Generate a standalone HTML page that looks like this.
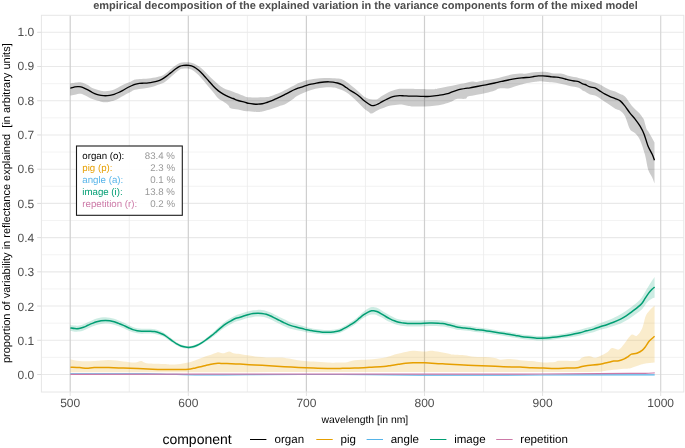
<!DOCTYPE html>
<html><head><meta charset="utf-8"><style>
html,body{margin:0;padding:0;background:#fff;width:685px;height:448px;overflow:hidden;}
svg{display:block;filter:blur(0.4px);}
text{font-family:"Liberation Sans",sans-serif;text-rendering:geometricPrecision;}
</style></head><body>
<svg width="685" height="448" viewBox="0 0 685 448"><rect x="0" y="0" width="685" height="448" fill="#fff"/><line x1="41.4" x2="683.8" y1="357.39" y2="357.39" stroke="#f0f0f0" stroke-width="0.8"/><line x1="41.4" x2="683.8" y1="323.17" y2="323.17" stroke="#f0f0f0" stroke-width="0.8"/><line x1="41.4" x2="683.8" y1="288.95" y2="288.95" stroke="#f0f0f0" stroke-width="0.8"/><line x1="41.4" x2="683.8" y1="254.73" y2="254.73" stroke="#f0f0f0" stroke-width="0.8"/><line x1="41.4" x2="683.8" y1="220.51" y2="220.51" stroke="#f0f0f0" stroke-width="0.8"/><line x1="41.4" x2="683.8" y1="186.29" y2="186.29" stroke="#f0f0f0" stroke-width="0.8"/><line x1="41.4" x2="683.8" y1="152.07" y2="152.07" stroke="#f0f0f0" stroke-width="0.8"/><line x1="41.4" x2="683.8" y1="117.85" y2="117.85" stroke="#f0f0f0" stroke-width="0.8"/><line x1="41.4" x2="683.8" y1="83.63" y2="83.63" stroke="#f0f0f0" stroke-width="0.8"/><line x1="41.4" x2="683.8" y1="49.41" y2="49.41" stroke="#f0f0f0" stroke-width="0.8"/><line y1="15.3" y2="392.0" x1="129.25" x2="129.25" stroke="#ebebeb" stroke-width="0.8"/><line y1="15.3" y2="392.0" x1="247.35" x2="247.35" stroke="#ebebeb" stroke-width="0.8"/><line y1="15.3" y2="392.0" x1="365.45" x2="365.45" stroke="#ebebeb" stroke-width="0.8"/><line y1="15.3" y2="392.0" x1="483.55" x2="483.55" stroke="#ebebeb" stroke-width="0.8"/><line y1="15.3" y2="392.0" x1="601.65" x2="601.65" stroke="#ebebeb" stroke-width="0.8"/><line x1="41.4" x2="683.8" y1="374.50" y2="374.50" stroke="#e9e9e9" stroke-width="1.1"/><line x1="41.4" x2="683.8" y1="340.28" y2="340.28" stroke="#e9e9e9" stroke-width="1.1"/><line x1="41.4" x2="683.8" y1="306.06" y2="306.06" stroke="#e9e9e9" stroke-width="1.1"/><line x1="41.4" x2="683.8" y1="271.84" y2="271.84" stroke="#e9e9e9" stroke-width="1.1"/><line x1="41.4" x2="683.8" y1="237.62" y2="237.62" stroke="#e9e9e9" stroke-width="1.1"/><line x1="41.4" x2="683.8" y1="203.40" y2="203.40" stroke="#e9e9e9" stroke-width="1.1"/><line x1="41.4" x2="683.8" y1="169.18" y2="169.18" stroke="#e9e9e9" stroke-width="1.1"/><line x1="41.4" x2="683.8" y1="134.96" y2="134.96" stroke="#e9e9e9" stroke-width="1.1"/><line x1="41.4" x2="683.8" y1="100.74" y2="100.74" stroke="#e9e9e9" stroke-width="1.1"/><line x1="41.4" x2="683.8" y1="66.52" y2="66.52" stroke="#e9e9e9" stroke-width="1.1"/><line x1="41.4" x2="683.8" y1="32.30" y2="32.30" stroke="#e9e9e9" stroke-width="1.1"/><line y1="15.3" y2="392.0" x1="70.20" x2="70.20" stroke="#cfcfcf" stroke-width="1.2"/><line y1="15.3" y2="392.0" x1="188.30" x2="188.30" stroke="#cfcfcf" stroke-width="1.2"/><line y1="15.3" y2="392.0" x1="306.40" x2="306.40" stroke="#cfcfcf" stroke-width="1.2"/><line y1="15.3" y2="392.0" x1="424.50" x2="424.50" stroke="#cfcfcf" stroke-width="1.2"/><line y1="15.3" y2="392.0" x1="542.60" x2="542.60" stroke="#d6d6d6" stroke-width="1.2"/><line y1="15.3" y2="392.0" x1="660.70" x2="660.70" stroke="#d6d6d6" stroke-width="1.2"/><rect x="41.4" y="15.3" width="642.40" height="376.70" fill="none" stroke="#e6e6e6" stroke-width="1"/><line x1="37.2" x2="41.4" y1="374.50" y2="374.50" stroke="#dcdcdc" stroke-width="1"/><line x1="37.2" x2="41.4" y1="340.28" y2="340.28" stroke="#dcdcdc" stroke-width="1"/><line x1="37.2" x2="41.4" y1="306.06" y2="306.06" stroke="#dcdcdc" stroke-width="1"/><line x1="37.2" x2="41.4" y1="271.84" y2="271.84" stroke="#dcdcdc" stroke-width="1"/><line x1="37.2" x2="41.4" y1="237.62" y2="237.62" stroke="#dcdcdc" stroke-width="1"/><line x1="37.2" x2="41.4" y1="203.40" y2="203.40" stroke="#dcdcdc" stroke-width="1"/><line x1="37.2" x2="41.4" y1="169.18" y2="169.18" stroke="#dcdcdc" stroke-width="1"/><line x1="37.2" x2="41.4" y1="134.96" y2="134.96" stroke="#dcdcdc" stroke-width="1"/><line x1="37.2" x2="41.4" y1="100.74" y2="100.74" stroke="#dcdcdc" stroke-width="1"/><line x1="37.2" x2="41.4" y1="66.52" y2="66.52" stroke="#dcdcdc" stroke-width="1"/><line x1="37.2" x2="41.4" y1="32.30" y2="32.30" stroke="#dcdcdc" stroke-width="1"/><line y1="392.0" y2="396" x1="70.20" x2="70.20" stroke="#e2e2e2" stroke-width="1"/><line y1="392.0" y2="396" x1="188.30" x2="188.30" stroke="#e2e2e2" stroke-width="1"/><line y1="392.0" y2="396" x1="306.40" x2="306.40" stroke="#e2e2e2" stroke-width="1"/><line y1="392.0" y2="396" x1="424.50" x2="424.50" stroke="#e2e2e2" stroke-width="1"/><line y1="392.0" y2="396" x1="542.60" x2="542.60" stroke="#e2e2e2" stroke-width="1"/><line y1="392.0" y2="396" x1="660.70" x2="660.70" stroke="#e2e2e2" stroke-width="1"/><path d="M70.40,83.30 C71.85,83.12 77.07,82.30 79.10,82.20 C81.13,82.10 81.13,82.22 82.60,82.70 C84.07,83.18 86.28,84.20 87.90,85.10 C89.52,86.00 90.12,87.15 92.30,88.10 C94.48,89.05 98.82,90.28 101.00,90.80 C103.18,91.32 103.93,91.20 105.40,91.20 C106.87,91.20 108.33,91.08 109.80,90.80 C111.27,90.52 112.73,90.08 114.20,89.50 C115.67,88.92 116.63,88.28 118.60,87.30 C120.57,86.32 124.02,84.52 126.00,83.60 C127.98,82.68 129.02,82.47 130.50,81.80 C131.98,81.13 133.42,80.08 134.90,79.60 C136.38,79.12 137.17,79.10 139.40,78.90 C141.63,78.70 145.32,78.73 148.30,78.40 C151.28,78.07 154.77,77.45 157.30,76.90 C159.83,76.35 161.28,76.37 163.50,75.10 C165.72,73.83 168.67,70.87 170.60,69.30 C172.53,67.73 173.60,66.75 175.10,65.70 C176.60,64.65 178.12,63.57 179.60,63.00 C181.08,62.43 182.45,62.42 184.00,62.30 C185.55,62.18 187.27,62.10 188.90,62.30 C190.53,62.50 192.17,62.83 193.80,63.50 C195.43,64.17 197.07,65.17 198.70,66.30 C200.33,67.43 201.97,68.82 203.60,70.30 C205.23,71.78 206.87,73.57 208.50,75.20 C210.13,76.83 211.75,78.57 213.40,80.10 C215.05,81.63 216.75,83.07 218.40,84.40 C220.05,85.73 221.67,87.15 223.30,88.10 C224.93,89.05 226.57,89.50 228.20,90.10 C229.83,90.70 231.47,91.12 233.10,91.70 C234.73,92.28 236.10,92.84 238.00,93.60 C239.90,94.36 242.68,95.63 244.50,96.25 C246.32,96.87 246.67,97.09 248.90,97.30 C251.13,97.51 254.92,97.53 257.90,97.50 C260.88,97.47 264.57,97.35 266.80,97.10 C269.03,96.85 269.82,96.48 271.30,96.00 C272.78,95.52 274.22,94.80 275.70,94.20 C277.18,93.60 278.72,93.07 280.20,92.40 C281.68,91.73 283.12,90.95 284.60,90.20 C286.08,89.45 287.60,88.65 289.10,87.90 C290.60,87.15 292.12,86.47 293.60,85.70 C295.08,84.93 296.53,83.97 298.00,83.30 C299.47,82.63 300.93,82.20 302.40,81.70 C303.87,81.20 304.62,80.78 306.80,80.30 C308.98,79.82 312.58,79.17 315.50,78.80 C318.42,78.43 321.38,78.18 324.30,78.10 C327.22,78.02 330.38,78.18 333.00,78.30 C335.62,78.42 338.25,78.50 340.00,78.80 C341.75,79.10 342.33,79.52 343.50,80.10 C344.67,80.68 345.82,81.50 347.00,82.30 C348.18,83.10 349.27,83.87 350.60,84.90 C351.93,85.93 353.52,87.23 355.00,88.50 C356.48,89.77 358.02,91.17 359.50,92.50 C360.98,93.83 362.42,95.46 363.90,96.50 C365.38,97.54 366.90,98.25 368.40,98.75 C369.90,99.25 371.42,99.42 372.90,99.50 C374.38,99.58 375.82,99.77 377.30,99.20 C378.78,98.63 380.30,97.07 381.80,96.10 C383.30,95.13 384.82,94.22 386.30,93.40 C387.78,92.58 389.22,91.80 390.70,91.20 C392.18,90.60 393.72,90.21 395.20,89.80 C396.68,89.39 397.37,88.92 399.60,88.75 C401.83,88.58 406.03,88.72 408.60,88.75 C411.17,88.78 412.95,88.88 415.00,88.90 C417.05,88.93 417.68,88.85 420.90,88.90 C424.12,88.95 431.32,89.30 434.30,89.20 C437.28,89.10 436.57,88.75 438.80,88.30 C441.03,87.85 444.73,87.10 447.70,86.50 C450.67,85.90 453.62,85.30 456.60,84.70 C459.58,84.10 463.03,83.42 465.60,82.90 C468.17,82.38 470.12,81.77 472.00,81.60 C473.88,81.43 474.58,82.15 476.90,81.90 C479.22,81.65 482.92,80.62 485.90,80.10 C488.88,79.57 491.83,79.35 494.80,78.75 C497.77,78.15 500.73,77.24 503.70,76.50 C506.67,75.76 509.62,74.82 512.60,74.30 C515.58,73.78 519.53,73.48 521.60,73.40 C523.67,73.32 522.95,73.98 525.00,73.80 C527.05,73.62 530.92,72.63 533.90,72.30 C536.88,71.97 540.67,71.83 542.90,71.80 C545.13,71.77 545.82,71.87 547.30,72.10 C548.78,72.33 549.57,72.95 551.80,73.20 C554.03,73.45 558.47,73.35 560.70,73.60 C562.93,73.85 563.72,74.28 565.20,74.70 C566.68,75.12 567.37,75.57 569.60,76.10 C571.83,76.63 576.03,77.33 578.60,77.90 C581.17,78.47 583.10,78.98 585.00,79.50 C586.90,80.02 588.33,80.50 590.00,81.00 C591.67,81.50 593.32,81.92 595.00,82.50 C596.68,83.08 598.42,83.65 600.10,84.50 C601.78,85.35 603.43,86.67 605.10,87.60 C606.77,88.53 608.42,89.43 610.10,90.10 C611.78,90.77 613.52,90.93 615.20,91.60 C616.88,92.27 618.57,93.27 620.20,94.10 C621.83,94.93 623.07,94.67 625.00,96.60 C626.93,98.53 629.43,102.95 631.80,105.70 C634.17,108.45 637.35,111.05 639.20,113.10 C641.05,115.15 642.10,116.85 642.90,118.00 C643.70,119.15 643.38,118.17 644.00,120.00 C644.62,121.83 645.87,127.07 646.60,129.00 C647.33,130.93 647.08,129.35 648.40,131.60 C649.72,133.85 653.48,140.68 654.50,142.50 L654.50,183.40 C654.12,182.40 653.27,179.73 652.20,177.40 C651.13,175.07 649.28,173.08 648.10,169.40 C646.92,165.72 646.43,160.17 645.10,155.30 C643.77,150.43 641.77,143.88 640.10,140.20 C638.43,136.52 636.78,135.03 635.10,133.20 C633.42,131.37 631.68,132.03 630.00,129.20 C628.32,126.37 626.63,119.28 625.00,116.20 C623.37,113.12 621.83,111.95 620.20,110.70 C618.57,109.45 616.88,109.62 615.20,108.70 C613.52,107.78 611.78,106.30 610.10,105.20 C608.42,104.10 606.77,103.20 605.10,102.10 C603.43,101.00 601.78,99.68 600.10,98.60 C598.42,97.52 596.68,96.27 595.00,95.60 C593.32,94.93 591.67,95.27 590.00,94.60 C588.33,93.93 586.17,92.23 585.00,91.60 C583.83,90.97 584.07,91.45 583.00,90.80 C581.93,90.15 580.83,88.52 578.60,87.70 C576.37,86.88 572.58,86.57 569.60,85.90 C566.62,85.23 563.67,84.30 560.70,83.70 C557.73,83.10 554.03,82.60 551.80,82.30 C549.57,82.00 548.78,82.05 547.30,81.90 C545.82,81.75 544.38,81.48 542.90,81.40 C541.42,81.32 539.90,81.32 538.40,81.40 C536.90,81.48 536.13,81.57 533.90,81.90 C531.67,82.23 527.05,82.95 525.00,83.40 C522.95,83.85 523.67,83.97 521.60,84.60 C519.53,85.23 514.83,86.57 512.60,87.20 C510.37,87.83 510.43,88.20 508.20,88.40 C505.97,88.60 501.48,88.07 499.25,88.40 C497.02,88.73 497.03,89.63 494.80,90.40 C492.57,91.17 488.88,92.27 485.90,93.00 C482.92,93.73 479.88,94.20 476.90,94.80 C473.92,95.40 469.88,95.93 468.00,96.60 C466.12,97.27 467.50,98.40 465.60,98.80 C463.70,99.20 458.83,98.59 456.60,99.00 C454.37,99.41 453.68,100.58 452.20,101.25 C450.72,101.92 449.93,102.33 447.70,103.00 C445.47,103.67 441.77,104.77 438.80,105.30 C435.83,105.83 432.88,106.02 429.90,106.20 C426.92,106.38 423.72,106.37 420.90,106.40 C418.08,106.43 415.05,106.48 413.00,106.40 C410.95,106.32 410.08,106.13 408.60,105.90 C407.12,105.67 405.60,105.22 404.10,105.00 C402.60,104.78 401.08,104.60 399.60,104.60 C398.12,104.60 396.68,104.87 395.20,105.00 C393.72,105.13 392.18,105.10 390.70,105.40 C389.22,105.70 387.78,106.27 386.30,106.80 C384.82,107.33 383.30,108.00 381.80,108.60 C380.30,109.20 379.02,109.58 377.30,110.40 C375.58,111.22 372.98,113.28 371.50,113.50 C370.02,113.72 369.67,112.52 368.40,111.70 C367.13,110.88 365.38,109.87 363.90,108.60 C362.42,107.33 360.98,105.60 359.50,104.10 C358.02,102.60 356.48,101.05 355.00,99.60 C353.52,98.15 352.07,96.62 350.60,95.40 C349.13,94.18 347.67,93.18 346.20,92.30 C344.73,91.42 343.27,90.75 341.80,90.10 C340.33,89.45 338.87,88.83 337.40,88.40 C335.93,87.97 335.18,87.65 333.00,87.50 C330.82,87.35 327.22,87.28 324.30,87.50 C321.38,87.72 318.42,88.13 315.50,88.80 C312.58,89.47 309.72,90.37 306.80,91.50 C303.88,92.63 300.20,94.40 298.00,95.60 C295.80,96.80 295.08,97.67 293.60,98.70 C292.12,99.73 290.60,100.83 289.10,101.80 C287.60,102.77 286.08,103.83 284.60,104.50 C283.12,105.17 281.68,105.28 280.20,105.80 C278.72,106.32 277.18,107.08 275.70,107.60 C274.22,108.12 272.78,108.45 271.30,108.90 C269.82,109.35 268.30,109.85 266.80,110.30 C265.30,110.75 263.78,111.31 262.30,111.60 C260.82,111.89 260.13,112.12 257.90,112.05 C255.67,111.98 251.22,111.38 248.90,111.20 C246.58,111.03 245.82,111.27 244.00,111.00 C242.18,110.73 240.23,110.05 238.00,109.60 C235.77,109.15 232.23,109.03 230.60,108.30 C228.97,107.57 229.42,106.32 228.20,105.20 C226.98,104.08 224.93,102.72 223.30,101.60 C221.67,100.48 220.05,100.03 218.40,98.50 C216.75,96.97 215.05,94.35 213.40,92.40 C211.75,90.45 210.13,88.75 208.50,86.80 C206.87,84.85 205.23,82.63 203.60,80.70 C201.97,78.77 200.33,76.83 198.70,75.20 C197.07,73.57 195.43,71.97 193.80,70.90 C192.17,69.83 190.53,69.18 188.90,68.80 C187.27,68.42 185.55,68.45 184.00,68.60 C182.45,68.75 181.08,68.92 179.60,69.70 C178.12,70.48 176.60,72.03 175.10,73.30 C173.60,74.57 172.08,76.03 170.60,77.30 C169.12,78.57 167.68,79.85 166.20,80.90 C164.72,81.95 163.93,82.63 161.70,83.60 C159.47,84.57 155.77,85.88 152.80,86.70 C149.83,87.52 146.88,87.98 143.90,88.50 C140.92,89.02 137.13,89.20 134.90,89.80 C132.67,90.40 131.98,91.35 130.50,92.10 C129.02,92.85 128.28,93.07 126.00,94.30 C123.72,95.53 119.50,98.27 116.80,99.50 C114.10,100.73 111.70,101.25 109.80,101.70 C107.90,102.15 106.87,102.20 105.40,102.20 C103.93,102.20 103.18,102.22 101.00,101.70 C98.82,101.18 94.92,100.12 92.30,99.10 C89.68,98.08 87.20,96.48 85.30,95.60 C83.40,94.72 82.65,93.95 80.90,93.80 C79.15,93.65 76.55,94.40 74.80,94.70 C73.05,95.00 71.13,95.45 70.40,95.60 Z" fill="#000" fill-opacity="0.2"/><path d="M70.50,359.20 C72.02,359.52 75.65,360.78 79.60,361.10 C83.55,361.42 89.33,361.28 94.20,361.10 C99.07,360.92 103.93,359.93 108.80,360.00 C113.67,360.07 119.03,361.08 123.40,361.50 C127.77,361.92 132.07,362.57 135.00,362.50 C137.93,362.43 139.03,360.98 141.00,361.10 C142.97,361.22 142.80,362.72 146.80,363.20 C150.80,363.68 161.13,363.80 165.00,364.00 C168.87,364.20 167.47,364.42 170.00,364.40 C172.53,364.38 176.80,364.32 180.20,363.90 C183.60,363.48 187.85,362.50 190.40,361.90 C192.95,361.30 193.78,360.90 195.50,360.30 C197.22,359.70 198.98,358.98 200.70,358.30 C202.42,357.62 204.10,356.80 205.80,356.20 C207.50,355.60 209.03,355.33 210.90,354.70 C212.77,354.07 215.30,352.68 217.00,352.40 C218.70,352.12 219.90,352.87 221.10,353.00 C222.30,353.13 222.83,353.43 224.20,353.20 C225.57,352.97 227.77,351.60 229.30,351.60 C230.83,351.60 231.62,352.80 233.40,353.20 C235.18,353.60 237.63,353.65 240.00,354.00 C242.37,354.35 245.10,354.90 247.60,355.30 C250.10,355.70 251.33,356.03 255.00,356.40 C258.67,356.77 265.22,357.32 269.60,357.50 C273.98,357.68 277.65,357.25 281.30,357.50 C284.95,357.75 288.10,358.47 291.50,359.00 C294.90,359.53 298.05,360.27 301.70,360.70 C305.35,361.13 309.02,361.28 313.40,361.60 C317.78,361.92 323.57,362.45 328.00,362.60 C332.43,362.75 336.83,362.57 340.00,362.50 C343.17,362.43 344.57,362.57 347.00,362.20 C349.43,361.83 350.90,360.73 354.60,360.30 C358.30,359.87 364.33,360.02 369.20,359.60 C374.07,359.18 379.90,358.53 383.80,357.80 C387.70,357.07 389.68,356.00 392.60,355.20 C395.52,354.40 397.90,353.73 401.30,353.00 C404.70,352.27 409.10,351.03 413.00,350.80 C416.90,350.57 421.78,351.60 424.70,351.60 C427.62,351.60 427.95,350.75 430.50,350.80 C433.05,350.85 436.75,351.38 440.00,351.90 C443.25,352.42 447.95,353.45 450.00,353.90 C452.05,354.35 449.97,354.37 452.30,354.60 C454.63,354.83 460.35,354.93 464.00,355.30 C467.65,355.67 470.07,356.48 474.20,356.80 C478.33,357.12 485.15,356.97 488.80,357.20 C492.45,357.43 494.15,357.78 496.10,358.20 C498.05,358.62 498.07,359.57 500.50,359.70 C502.93,359.83 507.45,358.92 510.70,359.00 C513.95,359.08 516.50,359.85 520.00,360.20 C523.50,360.55 528.20,360.75 531.70,361.10 C535.20,361.45 538.78,362.08 541.00,362.30 C543.22,362.52 542.67,362.47 545.00,362.40 C547.33,362.33 552.55,362.17 555.00,361.90 C557.45,361.63 556.00,360.98 559.70,360.80 C563.40,360.62 573.50,361.30 577.20,360.80 C580.90,360.30 579.95,358.58 581.90,357.80 C583.85,357.02 586.77,356.10 588.90,356.10 C591.03,356.10 592.85,357.82 594.70,357.80 C596.55,357.78 597.83,356.97 600.00,356.00 C602.17,355.03 605.70,353.32 607.70,352.00 C609.70,350.68 610.13,348.52 612.00,348.10 C613.87,347.68 616.85,350.22 618.90,349.50 C620.95,348.78 622.22,346.25 624.30,343.80 C626.38,341.35 629.32,336.15 631.40,334.80 C633.48,333.45 635.02,336.73 636.80,335.70 C638.58,334.67 640.62,331.87 642.10,328.60 C643.58,325.33 644.50,319.08 645.70,316.10 C646.90,313.12 647.82,312.48 649.30,310.70 C650.78,308.92 653.72,306.28 654.60,305.40 L654.60,362.50 C653.12,362.65 647.78,363.10 645.70,363.40 C643.62,363.70 644.48,363.55 642.10,364.30 C639.72,365.05 634.37,367.15 631.40,367.90 C628.43,368.65 627.87,368.42 624.30,368.80 C620.73,369.18 614.05,369.75 610.00,370.20 C605.95,370.65 603.33,371.20 600.00,371.50 C596.67,371.80 623.33,371.90 590.00,372.00 C556.67,372.10 465.00,372.07 400.00,372.10 C335.00,372.13 254.92,372.17 200.00,372.20 C145.08,372.23 92.08,372.28 70.50,372.30 Z" fill="#E69F00" fill-opacity="0.2"/><path d="M70.40,324.90 C71.13,325.01 73.35,325.48 74.80,325.57 C76.25,325.66 77.65,325.67 79.10,325.44 C80.55,325.21 82.03,324.75 83.50,324.21 C84.97,323.67 86.43,322.84 87.90,322.18 C89.37,321.52 90.83,320.84 92.30,320.25 C93.77,319.66 95.25,319.06 96.70,318.62 C98.15,318.18 99.55,317.84 101.00,317.62 C102.45,317.39 103.93,317.26 105.40,317.29 C106.87,317.31 108.33,317.50 109.80,317.76 C111.27,318.01 112.73,318.37 114.20,318.83 C115.67,319.28 117.15,319.92 118.60,320.50 C120.05,321.07 121.27,321.52 122.90,322.27 C124.53,323.01 126.75,324.19 128.40,324.97 C130.05,325.75 131.35,326.43 132.80,326.96 C134.25,327.49 135.65,327.85 137.10,328.14 C138.55,328.44 140.03,328.61 141.50,328.72 C142.97,328.83 144.43,328.77 145.90,328.79 C147.37,328.81 148.83,328.77 150.30,328.85 C151.77,328.94 153.25,329.05 154.70,329.32 C156.15,329.59 157.55,329.97 159.00,330.49 C160.45,331.00 161.93,331.58 163.40,332.44 C164.87,333.29 166.33,334.50 167.80,335.61 C169.27,336.72 170.73,337.98 172.20,339.09 C173.67,340.19 175.13,341.33 176.60,342.25 C178.07,343.16 179.28,343.96 181.00,344.58 C182.72,345.20 185.10,345.79 186.90,345.98 C188.70,346.17 190.17,346.05 191.80,345.73 C193.43,345.42 195.07,344.80 196.70,344.08 C198.33,343.37 199.95,342.48 201.60,341.43 C203.25,340.39 204.95,339.07 206.60,337.79 C208.25,336.51 209.87,335.16 211.50,333.75 C213.13,332.34 214.77,330.81 216.40,329.31 C218.03,327.81 219.67,326.20 221.30,324.77 C222.93,323.34 224.57,321.91 226.20,320.73 C227.83,319.54 229.47,318.61 231.10,317.68 C232.73,316.75 234.52,315.74 236.00,315.14 C237.48,314.55 238.60,314.54 240.00,314.11 C241.40,313.68 242.93,313.06 244.40,312.58 C245.87,312.10 247.35,311.62 248.80,311.25 C250.25,310.87 251.65,310.54 253.10,310.31 C254.55,310.09 256.03,309.93 257.50,309.88 C258.97,309.84 260.43,309.88 261.90,310.05 C263.37,310.23 264.83,310.50 266.30,310.92 C267.77,311.35 269.25,311.95 270.70,312.60 C272.15,313.24 273.55,314.04 275.00,314.77 C276.45,315.49 277.93,316.21 279.40,316.94 C280.87,317.66 282.33,318.39 283.80,319.11 C285.27,319.83 286.73,320.61 288.20,321.25 C289.67,321.89 291.15,322.45 292.60,322.95 C294.05,323.46 295.27,323.77 296.90,324.26 C298.53,324.74 300.75,325.38 302.40,325.87 C304.05,326.36 305.35,326.83 306.80,327.20 C308.25,327.58 309.65,327.84 311.10,328.13 C312.55,328.43 314.03,328.72 315.50,328.97 C316.97,329.21 318.43,329.43 319.90,329.60 C321.37,329.77 322.83,329.90 324.30,329.98 C325.77,330.06 327.25,330.10 328.70,330.07 C330.15,330.03 331.55,329.92 333.00,329.75 C334.45,329.58 335.93,329.42 337.40,329.03 C338.87,328.64 340.33,328.09 341.80,327.41 C343.27,326.73 344.73,325.83 346.20,324.96 C347.67,324.09 349.13,323.16 350.60,322.21 C352.07,321.26 353.53,320.40 355.00,319.27 C356.47,318.13 357.93,316.70 359.40,315.42 C360.87,314.14 362.35,312.72 363.80,311.58 C365.25,310.45 366.80,309.38 368.10,308.62 C369.40,307.87 370.53,307.27 371.60,307.03 C372.67,306.79 373.62,307.04 374.50,307.18 C375.38,307.31 375.77,307.33 376.90,307.85 C378.03,308.37 379.83,309.41 381.30,310.29 C382.77,311.16 384.25,312.24 385.70,313.12 C387.15,313.99 388.55,314.78 390.00,315.53 C391.45,316.29 392.93,317.03 394.40,317.65 C395.87,318.27 397.33,318.88 398.80,319.27 C400.27,319.66 401.73,319.79 403.20,320.00 C404.67,320.21 406.13,320.40 407.60,320.50 C409.07,320.60 409.80,320.62 412.00,320.60 C414.20,320.58 417.88,320.48 420.80,320.40 C423.72,320.32 426.58,320.13 429.50,320.10 C432.42,320.07 436.10,320.11 438.30,320.20 C440.50,320.29 441.25,320.43 442.70,320.65 C444.15,320.88 445.55,321.18 447.00,321.54 C448.45,321.90 449.93,322.42 451.40,322.83 C452.87,323.24 454.33,323.67 455.80,324.02 C457.27,324.36 458.73,324.67 460.20,324.90 C461.67,325.14 462.97,325.26 464.60,325.43 C466.23,325.61 468.27,325.73 470.00,325.98 C471.73,326.22 473.18,326.63 475.00,326.91 C476.82,327.19 478.95,327.39 480.90,327.66 C482.85,327.92 484.75,328.20 486.70,328.50 C488.65,328.80 490.65,329.13 492.60,329.44 C494.55,329.76 496.47,330.08 498.40,330.39 C500.33,330.70 502.25,330.99 504.20,331.31 C506.15,331.63 508.22,332.00 510.10,332.32 C511.98,332.64 513.72,332.92 515.50,333.23 C517.28,333.53 518.72,333.83 520.80,334.13 C522.88,334.44 525.33,334.74 528.00,335.05 C530.67,335.35 534.80,335.81 536.80,335.96 C538.80,336.11 538.35,336.00 540.00,335.97 C541.65,335.94 544.47,335.92 546.70,335.78 C548.93,335.63 551.17,335.35 553.40,335.09 C555.63,334.83 557.87,334.55 560.10,334.20 C562.33,333.85 564.57,333.44 566.80,332.98 C569.03,332.53 571.30,331.99 573.50,331.47 C575.70,330.95 577.80,330.48 580.00,329.86 C582.20,329.24 584.47,328.42 586.70,327.75 C588.93,327.09 591.17,326.61 593.40,325.88 C595.63,325.14 597.87,324.18 600.10,323.34 C602.33,322.51 604.57,321.75 606.80,320.86 C609.03,319.98 611.20,319.12 613.50,318.03 C615.80,316.95 618.48,315.58 620.60,314.36 C622.72,313.14 624.35,311.98 626.20,310.70 C628.05,309.41 629.85,308.04 631.70,306.65 C633.55,305.26 635.62,303.87 637.30,302.36 C638.98,300.84 640.50,299.31 641.80,297.58 C643.10,295.85 643.98,293.87 645.10,291.98 C646.22,290.09 647.38,288.06 648.50,286.23 C649.62,284.40 650.78,282.53 651.80,281.00 C652.82,279.48 654.13,277.71 654.60,277.06 L654.60,297.84 C654.13,297.99 652.82,298.15 651.80,298.70 C650.78,299.24 649.62,300.06 648.50,301.12 C647.38,302.18 646.22,303.62 645.10,305.03 C643.98,306.45 643.10,308.28 641.80,309.62 C640.50,310.96 638.98,311.83 637.30,313.05 C635.62,314.26 633.55,315.65 631.70,316.91 C629.85,318.17 628.05,319.52 626.20,320.61 C624.35,321.70 622.72,322.54 620.60,323.45 C618.48,324.36 615.80,325.29 613.50,326.07 C611.20,326.86 609.03,327.51 606.80,328.14 C604.57,328.77 602.33,329.19 600.10,329.86 C597.87,330.52 595.63,331.50 593.40,332.16 C591.17,332.82 588.93,333.25 586.70,333.81 C584.47,334.38 582.20,335.05 580.00,335.54 C577.80,336.03 575.70,336.35 573.50,336.73 C571.30,337.11 569.03,337.51 566.80,337.82 C564.57,338.13 562.33,338.32 560.10,338.60 C557.87,338.89 555.63,339.24 553.40,339.51 C551.17,339.78 548.93,340.07 546.70,340.22 C544.47,340.38 541.65,340.40 540.00,340.43 C538.35,340.47 538.80,340.59 536.80,340.44 C534.80,340.29 530.67,339.85 528.00,339.55 C525.33,339.26 522.88,338.96 520.80,338.67 C518.72,338.37 517.28,338.07 515.50,337.77 C513.72,337.48 511.98,337.20 510.10,336.88 C508.22,336.57 506.15,336.20 504.20,335.89 C502.25,335.58 500.33,335.30 498.40,335.01 C496.47,334.72 494.55,334.44 492.60,334.16 C490.65,333.87 488.65,333.57 486.70,333.30 C484.75,333.03 482.85,332.78 480.90,332.54 C478.95,332.31 476.82,332.14 475.00,331.89 C473.18,331.63 471.73,331.25 470.00,331.02 C468.27,330.80 466.23,330.72 464.60,330.57 C462.97,330.41 461.67,330.30 460.20,330.10 C458.73,329.90 457.27,329.67 455.80,329.38 C454.33,329.10 452.87,328.73 451.40,328.37 C449.93,328.02 448.45,327.56 447.00,327.26 C445.55,326.96 444.15,326.72 442.70,326.55 C441.25,326.37 440.50,326.27 438.30,326.20 C436.10,326.13 432.42,326.07 429.50,326.10 C426.58,326.13 423.72,326.32 420.80,326.40 C417.88,326.48 414.20,326.58 412.00,326.60 C409.80,326.62 409.07,326.60 407.60,326.50 C406.13,326.40 404.67,326.19 403.20,326.00 C401.73,325.81 400.27,325.67 398.80,325.33 C397.33,324.99 395.87,324.49 394.40,323.95 C392.93,323.41 391.45,322.74 390.00,322.07 C388.55,321.39 387.15,320.67 385.70,319.88 C384.25,319.09 382.77,318.10 381.30,317.31 C379.83,316.53 378.03,315.60 376.90,315.15 C375.77,314.70 375.38,314.72 374.50,314.62 C373.62,314.53 372.67,314.41 371.60,314.57 C370.53,314.73 369.40,315.03 368.10,315.58 C366.80,316.12 365.25,316.92 363.80,317.82 C362.35,318.72 360.87,319.86 359.40,320.98 C357.93,322.10 356.47,323.50 355.00,324.53 C353.53,325.57 352.07,326.34 350.60,327.19 C349.13,328.04 347.67,328.84 346.20,329.64 C344.73,330.44 343.27,331.33 341.80,331.99 C340.33,332.64 338.87,333.19 337.40,333.57 C335.93,333.95 334.45,334.09 333.00,334.25 C331.55,334.41 330.15,334.51 328.70,334.53 C327.25,334.56 325.77,334.51 324.30,334.42 C322.83,334.33 321.37,334.13 319.90,334.00 C318.43,333.87 316.97,333.79 315.50,333.63 C314.03,333.48 312.55,333.27 311.10,333.07 C309.65,332.86 308.25,332.69 306.80,332.40 C305.35,332.11 304.05,331.70 302.40,331.33 C300.75,330.95 298.53,330.49 296.90,330.14 C295.27,329.80 294.05,329.61 292.60,329.25 C291.15,328.88 289.67,328.48 288.20,327.95 C286.73,327.43 285.27,326.77 283.80,326.09 C282.33,325.41 280.87,324.61 279.40,323.86 C277.93,323.12 276.45,322.38 275.00,321.63 C273.55,320.89 272.15,320.06 270.70,319.40 C269.25,318.75 267.77,318.12 266.30,317.68 C264.83,317.23 263.37,316.94 261.90,316.75 C260.43,316.55 258.97,316.49 257.50,316.52 C256.03,316.54 254.55,316.68 253.10,316.89 C251.65,317.09 250.25,317.40 248.80,317.75 C247.35,318.11 245.87,318.57 244.40,319.02 C242.93,319.48 241.40,320.08 240.00,320.49 C238.60,320.90 237.48,320.89 236.00,321.46 C234.52,322.03 232.73,323.05 231.10,323.92 C229.47,324.79 227.83,325.66 226.20,326.67 C224.57,327.69 222.93,328.83 221.30,330.03 C219.67,331.23 218.03,332.62 216.40,333.89 C214.77,335.16 213.13,336.46 211.50,337.65 C209.87,338.84 208.25,339.89 206.60,341.01 C204.95,342.13 203.25,343.38 201.60,344.37 C199.95,345.35 198.33,346.23 196.70,346.92 C195.07,347.60 193.43,348.18 191.80,348.47 C190.17,348.75 188.70,348.79 186.90,348.62 C185.10,348.44 182.72,347.96 181.00,347.42 C179.28,346.88 178.07,346.17 176.60,345.35 C175.13,344.53 173.67,343.51 172.20,342.51 C170.73,341.52 169.27,340.38 167.80,339.39 C166.33,338.40 164.87,337.31 163.40,336.56 C161.93,335.82 160.45,335.36 159.00,334.91 C157.55,334.47 156.15,334.11 154.70,333.88 C153.25,333.65 151.77,333.59 150.30,333.55 C148.83,333.50 147.37,333.59 145.90,333.61 C144.43,333.63 142.97,333.74 141.50,333.68 C140.03,333.62 138.55,333.50 137.10,333.26 C135.65,333.02 134.25,332.72 132.80,332.24 C131.35,331.77 130.05,331.15 128.40,330.43 C126.75,329.71 124.53,328.62 122.90,327.93 C121.27,327.25 120.05,326.83 118.60,326.30 C117.15,325.78 115.67,325.18 114.20,324.77 C112.73,324.36 111.27,324.05 109.80,323.84 C108.33,323.63 106.87,323.49 105.40,323.51 C103.93,323.54 102.45,323.74 101.00,323.98 C99.55,324.23 98.15,324.55 96.70,324.98 C95.25,325.41 93.77,325.98 92.30,326.55 C90.83,327.12 89.37,327.78 87.90,328.42 C86.43,329.06 84.97,329.87 83.50,330.39 C82.03,330.91 80.55,331.35 79.10,331.56 C77.65,331.77 76.25,331.74 74.80,331.63 C73.35,331.52 71.13,331.02 70.40,330.90 Z" fill="#009E73" fill-opacity="0.2"/><path d="M70.40,88.30 C71.13,88.05 73.35,87.08 74.80,86.80 C76.25,86.52 77.80,86.52 79.10,86.60 C80.40,86.68 81.13,86.75 82.60,87.30 C84.07,87.85 86.28,89.03 87.90,89.90 C89.52,90.77 90.83,91.75 92.30,92.50 C93.77,93.25 95.25,93.93 96.70,94.40 C98.15,94.87 99.55,95.08 101.00,95.30 C102.45,95.52 103.93,95.70 105.40,95.70 C106.87,95.70 108.33,95.53 109.80,95.30 C111.27,95.07 112.73,94.77 114.20,94.30 C115.67,93.83 117.15,93.17 118.60,92.50 C120.05,91.83 121.67,90.97 122.90,90.30 C124.13,89.63 124.73,89.17 126.00,88.50 C127.27,87.83 129.02,86.95 130.50,86.25 C131.98,85.55 133.42,84.77 134.90,84.30 C136.38,83.83 137.90,83.58 139.40,83.40 C140.90,83.22 142.42,83.28 143.90,83.20 C145.38,83.12 146.82,83.07 148.30,82.90 C149.78,82.73 151.30,82.50 152.80,82.20 C154.30,81.90 155.82,81.58 157.30,81.10 C158.78,80.62 160.22,80.08 161.70,79.30 C163.18,78.52 164.72,77.47 166.20,76.40 C167.68,75.33 169.12,74.08 170.60,72.90 C172.08,71.72 173.60,70.38 175.10,69.30 C176.60,68.22 178.18,67.05 179.60,66.40 C181.02,65.75 182.05,65.57 183.60,65.40 C185.15,65.23 187.20,65.17 188.90,65.40 C190.60,65.63 192.17,65.98 193.80,66.80 C195.43,67.62 197.07,68.90 198.70,70.30 C200.33,71.70 201.97,73.47 203.60,75.20 C205.23,76.93 206.87,78.87 208.50,80.70 C210.13,82.53 211.75,84.50 213.40,86.20 C215.05,87.90 216.75,89.57 218.40,90.90 C220.05,92.23 221.67,93.23 223.30,94.20 C224.93,95.17 226.57,95.98 228.20,96.70 C229.83,97.42 231.47,97.87 233.10,98.50 C234.73,99.13 236.10,99.88 238.00,100.50 C239.90,101.12 242.68,101.72 244.50,102.20 C246.32,102.68 247.42,103.10 248.90,103.40 C250.38,103.70 251.90,103.87 253.40,104.00 C254.90,104.13 256.42,104.24 257.90,104.20 C259.38,104.16 260.82,104.03 262.30,103.75 C263.78,103.47 265.30,102.97 266.80,102.50 C268.30,102.03 269.82,101.50 271.30,100.90 C272.78,100.30 274.22,99.57 275.70,98.90 C277.18,98.23 278.72,97.62 280.20,96.90 C281.68,96.18 283.12,95.35 284.60,94.60 C286.08,93.85 287.60,93.17 289.10,92.40 C290.60,91.63 292.12,90.70 293.60,90.00 C295.08,89.30 296.53,88.73 298.00,88.20 C299.47,87.67 300.93,87.28 302.40,86.80 C303.87,86.32 305.35,85.73 306.80,85.30 C308.25,84.87 309.65,84.53 311.10,84.20 C312.55,83.87 314.03,83.58 315.50,83.30 C316.97,83.02 318.43,82.72 319.90,82.50 C321.37,82.28 322.83,82.12 324.30,82.00 C325.77,81.88 327.25,81.78 328.70,81.80 C330.15,81.82 331.55,81.90 333.00,82.10 C334.45,82.30 335.93,82.57 337.40,83.00 C338.87,83.43 340.33,83.95 341.80,84.70 C343.27,85.45 344.73,86.52 346.20,87.50 C347.67,88.48 349.13,89.65 350.60,90.60 C352.07,91.55 353.52,92.22 355.00,93.20 C356.48,94.18 358.02,95.30 359.50,96.50 C360.98,97.70 362.42,99.20 363.90,100.40 C365.38,101.60 367.20,102.88 368.40,103.70 C369.60,104.52 370.07,105.02 371.10,105.30 C372.13,105.58 373.42,105.63 374.60,105.40 C375.78,105.17 377.00,104.48 378.20,103.90 C379.40,103.32 380.45,102.63 381.80,101.90 C383.15,101.17 384.82,100.25 386.30,99.50 C387.78,98.75 389.22,97.97 390.70,97.40 C392.18,96.83 393.72,96.40 395.20,96.10 C396.68,95.80 398.12,95.65 399.60,95.60 C401.08,95.55 402.60,95.72 404.10,95.80 C405.60,95.88 407.28,96.05 408.60,96.10 C409.92,96.15 409.95,96.07 412.00,96.10 C414.05,96.13 418.67,96.23 420.90,96.30 C423.13,96.37 423.90,96.50 425.40,96.50 C426.90,96.50 428.42,96.40 429.90,96.30 C431.38,96.20 432.82,96.07 434.30,95.90 C435.78,95.73 437.30,95.52 438.80,95.30 C440.30,95.08 441.82,94.87 443.30,94.60 C444.78,94.33 446.22,94.15 447.70,93.70 C449.18,93.25 450.72,92.45 452.20,91.90 C453.68,91.35 455.12,90.85 456.60,90.40 C458.08,89.95 459.60,89.55 461.10,89.20 C462.60,88.85 464.12,88.53 465.60,88.30 C467.08,88.07 468.12,88.10 470.00,87.80 C471.88,87.50 474.25,87.00 476.90,86.50 C479.55,86.00 482.92,85.38 485.90,84.80 C488.88,84.22 492.57,83.48 494.80,83.00 C497.03,82.52 497.77,82.23 499.25,81.90 C500.73,81.57 501.47,81.45 503.70,81.00 C505.93,80.55 509.62,79.72 512.60,79.20 C515.58,78.68 518.78,78.22 521.60,77.90 C524.42,77.58 527.45,77.53 529.50,77.30 C531.55,77.07 532.42,76.73 533.90,76.50 C535.38,76.27 536.90,76.00 538.40,75.90 C539.90,75.80 541.42,75.84 542.90,75.90 C544.38,75.96 545.82,76.10 547.30,76.25 C548.78,76.40 550.31,76.64 551.80,76.80 C553.29,76.96 554.77,77.02 556.25,77.20 C557.73,77.38 559.21,77.60 560.70,77.90 C562.19,78.20 563.72,78.63 565.20,79.00 C566.68,79.37 568.12,79.77 569.60,80.10 C571.08,80.43 572.60,80.75 574.10,81.00 C575.60,81.25 577.27,81.15 578.60,81.60 C579.93,82.05 581.03,83.22 582.10,83.70 C583.17,84.18 583.68,83.97 585.00,84.50 C586.32,85.03 588.33,86.33 590.00,86.90 C591.67,87.47 593.32,87.20 595.00,87.90 C596.68,88.60 598.42,90.07 600.10,91.10 C601.78,92.13 603.43,93.18 605.10,94.10 C606.77,95.02 608.42,95.85 610.10,96.60 C611.78,97.35 613.52,97.88 615.20,98.60 C616.88,99.32 618.57,99.63 620.20,100.90 C621.83,102.17 623.37,104.17 625.00,106.20 C626.63,108.23 628.32,110.95 630.00,113.10 C631.68,115.25 633.42,116.92 635.10,119.10 C636.78,121.28 638.60,123.68 640.10,126.20 C641.60,128.72 642.77,130.85 644.10,134.20 C645.43,137.55 646.75,142.95 648.10,146.30 C649.45,149.65 651.13,151.97 652.20,154.30 C653.27,156.63 654.12,159.30 654.50,160.30" fill="none" stroke="#000" stroke-width="1.35" stroke-linejoin="round"/><path d="M70.50,367.20 C72.02,367.27 76.87,367.43 79.60,367.60 C82.33,367.77 84.47,368.20 86.90,368.20 C89.33,368.20 90.55,367.70 94.20,367.60 C97.85,367.50 103.93,367.52 108.80,367.60 C113.67,367.68 118.53,367.93 123.40,368.10 C128.27,368.27 133.13,368.40 138.00,368.60 C142.87,368.80 148.93,369.17 152.60,369.30 C156.27,369.43 157.10,369.38 160.00,369.40 C162.90,369.42 166.63,369.38 170.00,369.40 C173.37,369.42 177.13,369.52 180.20,369.50 C183.27,369.48 185.85,369.57 188.40,369.30 C190.95,369.03 193.45,368.32 195.50,367.90 C197.55,367.48 198.98,367.22 200.70,366.80 C202.42,366.38 204.10,365.83 205.80,365.40 C207.50,364.97 209.20,364.53 210.90,364.20 C212.60,363.87 214.30,363.53 216.00,363.40 C217.70,363.27 218.55,363.35 221.10,363.40 C223.65,363.45 228.15,363.58 231.30,363.70 C234.45,363.82 236.05,363.88 240.00,364.10 C243.95,364.32 250.13,364.73 255.00,365.00 C259.87,365.27 264.33,365.42 269.20,365.70 C274.07,365.98 279.33,366.42 284.20,366.70 C289.07,366.98 293.53,367.17 298.40,367.40 C303.27,367.63 308.53,367.92 313.40,368.10 C318.27,368.28 323.17,368.45 327.60,368.50 C332.03,368.55 335.50,368.47 340.00,368.40 C344.50,368.33 349.73,368.28 354.60,368.10 C359.47,367.92 364.33,367.55 369.20,367.30 C374.07,367.05 380.15,366.92 383.80,366.60 C387.45,366.28 388.67,365.78 391.10,365.40 C393.53,365.02 395.97,364.67 398.40,364.30 C400.83,363.93 403.27,363.45 405.70,363.20 C408.13,362.95 409.83,362.87 413.00,362.80 C416.17,362.73 420.20,362.65 424.70,362.80 C429.20,362.95 436.62,363.52 440.00,363.70 C443.38,363.88 441.73,363.72 445.00,363.90 C448.27,364.08 454.73,364.53 459.60,364.80 C464.47,365.07 469.33,365.30 474.20,365.50 C479.07,365.70 483.93,365.80 488.80,366.00 C493.67,366.20 498.20,366.52 503.40,366.70 C508.60,366.88 515.28,366.92 520.00,367.10 C524.72,367.28 527.80,367.63 531.70,367.80 C535.60,367.97 539.52,368.00 543.40,368.10 C547.28,368.20 551.12,368.40 555.00,368.40 C558.88,368.40 563.00,368.20 566.70,368.10 C570.40,368.00 574.67,368.08 577.20,367.80 C579.73,367.52 580.15,366.80 581.90,366.40 C583.65,366.00 585.92,365.62 587.70,365.40 C589.48,365.18 590.55,365.28 592.60,365.10 C594.65,364.92 598.07,364.60 600.00,364.30 C601.93,364.00 602.52,363.68 604.20,363.30 C605.88,362.92 608.53,362.37 610.10,362.00 C611.67,361.63 612.13,361.32 613.60,361.10 C615.07,360.88 617.12,361.07 618.90,360.70 C620.68,360.33 622.80,359.55 624.30,358.90 C625.80,358.25 626.72,357.60 627.90,356.80 C629.08,356.00 629.92,354.70 631.40,354.10 C632.88,353.50 635.02,353.82 636.80,353.20 C638.58,352.58 640.62,351.53 642.10,350.40 C643.58,349.27 644.50,347.95 645.70,346.40 C646.90,344.85 647.82,342.78 649.30,341.10 C650.78,339.42 653.72,337.10 654.60,336.30" fill="none" stroke="#E69F00" stroke-width="1.5" stroke-linejoin="round"/><path d="M70.40,373.80 C78.67,373.80 105.07,373.75 120.00,373.80 C134.93,373.85 146.67,373.92 160.00,374.10 C173.33,374.28 185.00,374.82 200.00,374.90 C215.00,374.98 226.67,374.67 250.00,374.60 C273.33,374.53 311.67,374.42 340.00,374.50 C368.33,374.58 386.67,375.02 420.00,375.10 C453.33,375.18 500.88,375.05 540.00,375.00 C579.12,374.95 635.58,374.83 654.70,374.80" fill="none" stroke="#56B4E9" stroke-width="1.2"/><path d="M70.40,327.90 C71.13,328.02 73.35,328.50 74.80,328.60 C76.25,328.70 77.65,328.72 79.10,328.50 C80.55,328.28 82.03,327.83 83.50,327.30 C84.97,326.77 86.43,325.95 87.90,325.30 C89.37,324.65 90.83,323.98 92.30,323.40 C93.77,322.82 95.25,322.23 96.70,321.80 C98.15,321.37 99.55,321.03 101.00,320.80 C102.45,320.57 103.93,320.40 105.40,320.40 C106.87,320.40 108.33,320.57 109.80,320.80 C111.27,321.03 112.73,321.37 114.20,321.80 C115.67,322.23 117.15,322.85 118.60,323.40 C120.05,323.95 121.27,324.38 122.90,325.10 C124.53,325.82 126.75,326.95 128.40,327.70 C130.05,328.45 131.35,329.10 132.80,329.60 C134.25,330.10 135.65,330.43 137.10,330.70 C138.55,330.97 140.03,331.12 141.50,331.20 C142.97,331.28 144.43,331.20 145.90,331.20 C147.37,331.20 148.83,331.13 150.30,331.20 C151.77,331.27 153.25,331.35 154.70,331.60 C156.15,331.85 157.55,332.22 159.00,332.70 C160.45,333.18 161.93,333.70 163.40,334.50 C164.87,335.30 166.33,336.45 167.80,337.50 C169.27,338.55 170.73,339.75 172.20,340.80 C173.67,341.85 175.13,342.93 176.60,343.80 C178.07,344.67 179.28,345.42 181.00,346.00 C182.72,346.58 185.10,347.12 186.90,347.30 C188.70,347.48 190.17,347.40 191.80,347.10 C193.43,346.80 195.07,346.20 196.70,345.50 C198.33,344.80 199.95,343.92 201.60,342.90 C203.25,341.88 204.95,340.60 206.60,339.40 C208.25,338.20 209.87,337.00 211.50,335.70 C213.13,334.40 214.77,332.98 216.40,331.60 C218.03,330.22 219.67,328.72 221.30,327.40 C222.93,326.08 224.57,324.80 226.20,323.70 C227.83,322.60 229.47,321.70 231.10,320.80 C232.73,319.90 234.52,318.88 236.00,318.30 C237.48,317.72 238.60,317.72 240.00,317.30 C241.40,316.88 242.93,316.27 244.40,315.80 C245.87,315.33 247.35,314.87 248.80,314.50 C250.25,314.13 251.65,313.82 253.10,313.60 C254.55,313.38 256.03,313.23 257.50,313.20 C258.97,313.17 260.43,313.22 261.90,313.40 C263.37,313.58 264.83,313.87 266.30,314.30 C267.77,314.73 269.25,315.35 270.70,316.00 C272.15,316.65 273.55,317.47 275.00,318.20 C276.45,318.93 277.93,319.67 279.40,320.40 C280.87,321.13 282.33,321.90 283.80,322.60 C285.27,323.30 286.73,324.02 288.20,324.60 C289.67,325.18 291.15,325.67 292.60,326.10 C294.05,326.53 295.27,326.78 296.90,327.20 C298.53,327.62 300.75,328.17 302.40,328.60 C304.05,329.03 305.35,329.47 306.80,329.80 C308.25,330.13 309.65,330.35 311.10,330.60 C312.55,330.85 314.03,331.10 315.50,331.30 C316.97,331.50 318.43,331.65 319.90,331.80 C321.37,331.95 322.83,332.12 324.30,332.20 C325.77,332.28 327.25,332.33 328.70,332.30 C330.15,332.27 331.55,332.17 333.00,332.00 C334.45,331.83 335.93,331.68 337.40,331.30 C338.87,330.92 340.33,330.37 341.80,329.70 C343.27,329.03 344.73,328.13 346.20,327.30 C347.67,326.47 349.13,325.60 350.60,324.70 C352.07,323.80 353.53,322.98 355.00,321.90 C356.47,320.82 357.93,319.40 359.40,318.20 C360.87,317.00 362.35,315.72 363.80,314.70 C365.25,313.68 366.80,312.75 368.10,312.10 C369.40,311.45 370.53,311.00 371.60,310.80 C372.67,310.60 373.62,310.78 374.50,310.90 C375.38,311.02 375.77,311.02 376.90,311.50 C378.03,311.98 379.83,312.97 381.30,313.80 C382.77,314.63 384.25,315.67 385.70,316.50 C387.15,317.33 388.55,318.08 390.00,318.80 C391.45,319.52 392.93,320.22 394.40,320.80 C395.87,321.38 397.33,321.93 398.80,322.30 C400.27,322.67 401.73,322.80 403.20,323.00 C404.67,323.20 406.13,323.40 407.60,323.50 C409.07,323.60 409.80,323.62 412.00,323.60 C414.20,323.58 417.88,323.48 420.80,323.40 C423.72,323.32 426.58,323.13 429.50,323.10 C432.42,323.07 436.10,323.12 438.30,323.20 C440.50,323.28 441.25,323.40 442.70,323.60 C444.15,323.80 445.55,324.07 447.00,324.40 C448.45,324.73 449.93,325.22 451.40,325.60 C452.87,325.98 454.33,326.38 455.80,326.70 C457.27,327.02 458.73,327.28 460.20,327.50 C461.67,327.72 462.97,327.83 464.60,328.00 C466.23,328.17 468.27,328.27 470.00,328.50 C471.73,328.73 473.18,329.13 475.00,329.40 C476.82,329.67 478.95,329.85 480.90,330.10 C482.85,330.35 484.75,330.62 486.70,330.90 C488.65,331.18 490.65,331.50 492.60,331.80 C494.55,332.10 496.47,332.40 498.40,332.70 C500.33,333.00 502.25,333.28 504.20,333.60 C506.15,333.92 508.22,334.28 510.10,334.60 C511.98,334.92 513.72,335.20 515.50,335.50 C517.28,335.80 518.72,336.10 520.80,336.40 C522.88,336.70 525.33,337.00 528.00,337.30 C530.67,337.60 534.80,338.05 536.80,338.20 C538.80,338.35 538.35,338.23 540.00,338.20 C541.65,338.17 544.47,338.15 546.70,338.00 C548.93,337.85 551.17,337.57 553.40,337.30 C555.63,337.03 557.87,336.72 560.10,336.40 C562.33,336.08 564.57,335.78 566.80,335.40 C569.03,335.02 571.30,334.55 573.50,334.10 C575.70,333.65 577.80,333.25 580.00,332.70 C582.20,332.15 584.47,331.40 586.70,330.80 C588.93,330.20 591.17,329.78 593.40,329.10 C595.63,328.43 597.87,327.48 600.10,326.75 C602.33,326.02 604.57,325.44 606.80,324.70 C609.03,323.96 611.20,323.23 613.50,322.30 C615.80,321.37 618.48,320.18 620.60,319.10 C622.72,318.02 624.35,317.02 626.20,315.80 C628.05,314.58 629.85,313.17 631.70,311.80 C633.55,310.43 635.62,308.98 637.30,307.60 C638.98,306.22 640.50,305.03 641.80,303.50 C643.10,301.97 643.98,300.08 645.10,298.40 C646.22,296.72 647.38,294.88 648.50,293.40 C649.62,291.92 650.78,290.55 651.80,289.50 C652.82,288.45 654.13,287.50 654.60,287.10" fill="none" stroke="#009E73" stroke-width="1.5" stroke-linejoin="round"/><path d="M70.40,374.30 C92.00,374.28 136.73,374.23 200.00,374.20 C263.27,374.17 393.33,374.13 450.00,374.10 C506.67,374.07 515.00,374.08 540.00,374.00 C565.00,373.92 585.00,373.70 600.00,373.60 C615.00,373.50 622.50,373.45 630.00,373.40 C637.50,373.35 640.88,373.38 645.00,373.30 C649.12,373.22 653.08,372.97 654.70,372.90" fill="none" stroke="#CC79A7" stroke-width="1.2"/><rect x="76.5" y="146" width="105.8" height="69.3" fill="#fff" fill-opacity="0.92" stroke="#1a1a1a" stroke-width="1.1"/><g font-family="Liberation Sans, sans-serif" font-size="9.7"><text x="82.3" y="158.7" fill="#000">organ (o):</text><text x="175" y="158.7" fill="#999" text-anchor="end">83.4 %</text><text x="82.3" y="170.8" fill="#E69F00">pig (p):</text><text x="175" y="170.8" fill="#999" text-anchor="end">2.3 %</text><text x="82.3" y="182.9" fill="#56B4E9">angle (a):</text><text x="175" y="182.9" fill="#999" text-anchor="end">0.1 %</text><text x="82.3" y="195.0" fill="#009E73">image (i):</text><text x="175" y="195.0" fill="#999" text-anchor="end">13.8 %</text><text x="82.3" y="207.1" fill="#CC79A7">repetition (r):</text><text x="175" y="207.1" fill="#999" text-anchor="end">0.2 %</text></g><g font-family="Liberation Sans, sans-serif" font-size="12" fill="#4d4d4d"><text x="34.2" y="379.30" text-anchor="end">0.0</text><text x="34.2" y="344.97" text-anchor="end">0.1</text><text x="34.2" y="310.64" text-anchor="end">0.2</text><text x="34.2" y="276.31" text-anchor="end">0.3</text><text x="34.2" y="241.98" text-anchor="end">0.4</text><text x="34.2" y="207.65" text-anchor="end">0.5</text><text x="34.2" y="173.32" text-anchor="end">0.6</text><text x="34.2" y="138.99" text-anchor="end">0.7</text><text x="34.2" y="104.66" text-anchor="end">0.8</text><text x="34.2" y="70.33" text-anchor="end">0.9</text><text x="34.2" y="36.00" text-anchor="end">1.0</text><text x="70.20" y="406.5" text-anchor="middle">500</text><text x="188.30" y="406.5" text-anchor="middle">600</text><text x="306.40" y="406.5" text-anchor="middle">700</text><text x="424.50" y="406.5" text-anchor="middle">800</text><text x="542.60" y="406.5" text-anchor="middle">900</text><text x="660.70" y="406.5" text-anchor="middle">1000</text></g><text x="365.5" y="9.3" font-family="Liberation Sans, sans-serif" font-size="11" font-weight="bold" fill="#4d4d4d" text-anchor="middle">empirical decomposition of the explained variation in the variance components form of the mixed model</text><text x="364.9" y="422.5" font-family="Liberation Sans, sans-serif" font-size="10.4" fill="#000" text-anchor="middle">wavelength [in nm]</text><text transform="translate(9.6,203.2) rotate(-90)" x="0" y="0" font-family="Liberation Sans, sans-serif" font-size="11" fill="#000" text-anchor="middle">proportion of variability in reflectance explained&#160; [in arbitrary units]</text><g font-family="Liberation Sans, sans-serif" fill="#000"><text x="162.4" y="444.1" font-size="14">component</text><line x1="250" x2="266.4" y1="439.5" y2="439.5" stroke="#000" stroke-width="1.05"/><text x="274.6" y="442.5" font-size="11.55">organ</text><line x1="316.3" x2="332.7" y1="439.5" y2="439.5" stroke="#E69F00" stroke-width="1.05"/><text x="340.6" y="442.5" font-size="11.55">pig</text><line x1="366.6" x2="383.0" y1="439.5" y2="439.5" stroke="#56B4E9" stroke-width="1.05"/><text x="390.7" y="442.5" font-size="11.55">angle</text><line x1="430" x2="446.4" y1="439.5" y2="439.5" stroke="#009E73" stroke-width="1.05"/><text x="454.2" y="442.5" font-size="11.55">image</text><line x1="496.2" x2="512.6" y1="439.5" y2="439.5" stroke="#CC79A7" stroke-width="1.05"/><text x="520.3" y="442.5" font-size="11.55">repetition</text></g></svg>
</body></html>
